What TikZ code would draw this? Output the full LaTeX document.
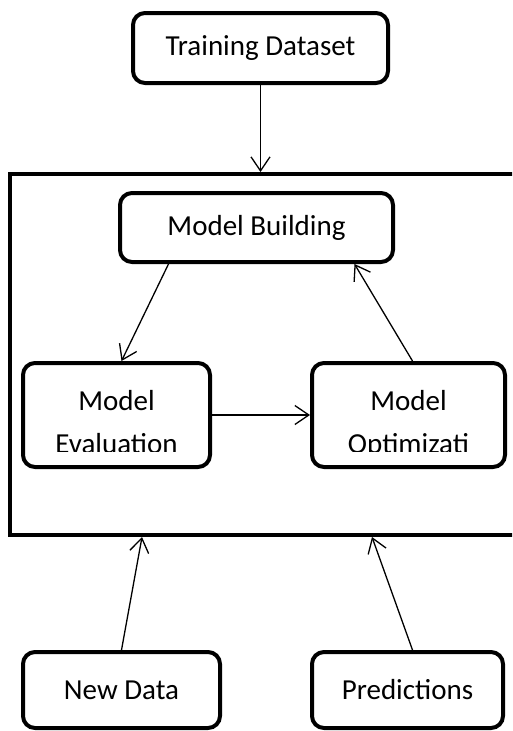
\documentclass[tikz,border=0pt]{standalone}
\usepackage{fontspec}
\setmainfont{Carlito}
\usetikzlibrary{positioning,arrows.meta}

\begin{document}
\begin{tikzpicture}[x=1pt, y=1pt,
  node distance=98pt,
  stage/.style={draw, line width=4pt, rounded corners=12pt, align=center, font=\fontsize{29}{43}\selectfont, inner sep=0pt},
  frm/.style={draw, line width=4pt, inner sep=0pt},
  arr/.style={-{Straight Barb[length=14pt, width=19pt]}, line width=1.3pt}]
  \path[use as bounding box, clip] (0,0) rectangle (512,-731);
  \node[stage, minimum width=255pt, minimum height=70pt] (train) at (260.5,-48) {Training Dataset};
  \node[frm, minimum width=530pt, minimum height=361pt] (frame) at (275,-354.5) {};
  \node[stage, minimum width=273pt, minimum height=69pt] (build) at (256.5,-227.5) {Model Building};
  \node[stage, minimum width=187pt, minimum height=104pt] (eval) at (116.5,-415) {};
  \node[stage, minimum width=193pt, minimum height=104pt, right=of eval] (opt) {};
  \node[stage, minimum width=197pt, minimum height=76pt] (newdata) at (121.5,-690) {New Data};
  \node[stage, minimum width=191pt, minimum height=76pt, right=88pt of newdata] (pred) {Predictions};
  % second lines are cut off at the text box
  \begin{scope}
    \clip (eval.north west) rectangle ([yshift=18pt]eval.south east);
    \node[stage, draw=none, yshift=-7pt] (evaltxt) at (eval) {Model\\Evaluation};
  \end{scope}
  \begin{scope}
    \clip (opt.north west) rectangle ([yshift=18pt]opt.south east);
    \node[stage, draw=none, yshift=-9.5pt] (opttxt) at (opt) {Model\\Optimizati};
  \end{scope}
  \draw[arr] (train) -- (train |- frame.north);
  \draw[arr] ([xshift=-88pt]build.south) -- ([xshift=5pt]eval.north);
  \draw[arr] ([xshift=4pt]opt.north) -- ([xshift=98pt]build.south);
  \draw[arr] (eval.east) -- (opt.west);
  \draw[arr] (newdata.north) -- ([xshift=134pt]frame.south west);
  \draw[arr] ([xshift=5pt]pred.north) -- ([xshift=364pt]frame.south west);
\end{tikzpicture}
\end{document}
